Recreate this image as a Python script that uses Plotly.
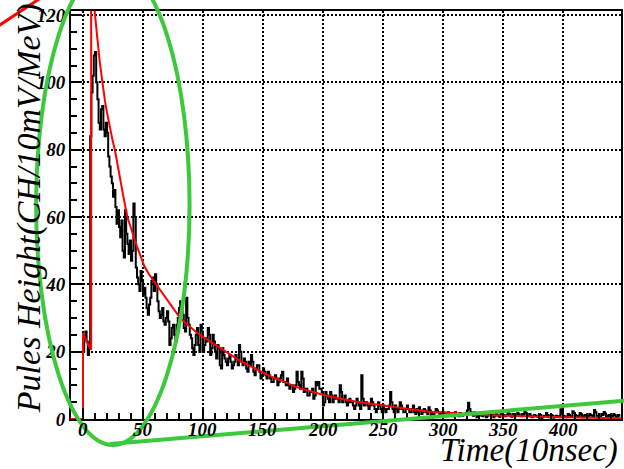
import plotly.graph_objects as go

# ---------------- data ----------------
BIN_START = 0
BIN_WIDTH = 1
counts = [
    20, 24, 26, 23, 19, 21, 84, 97, 102, 108, 109, 100, 95, 88, 86, 92, 93, 86, 84, 88,          # 0-20
    85, 78, 75, 72, 70, 66, 68, 63, 58, 62, 57, 54, 59, 50, 48, 62, 55, 52, 49, 53,              # 20-40
    47, 50, 64, 60, 45, 42, 40, 38, 44, 41, 37, 39, 36, 33, 31, 34, 36, 41, 42, 38,              # 40-60
    43, 40, 35, 32, 30, 31, 33, 29, 28, 30, 32, 29, 22, 24, 27, 28, 25, 23, 28, 30,              # 60-80
    33, 35, 34, 31, 27, 26, 36, 30, 28, 25, 24, 21, 19, 22, 25, 27, 22, 20, 28, 26,              # 80-100
    20, 22, 24, 23, 27, 25, 19, 21, 25, 23, 20, 18, 22, 21, 16, 15, 21, 19, 18, 17,              # 100-120
    16, 18, 19, 17, 15, 16, 17, 19, 18, 16, 22, 20, 17, 16, 18, 17, 15, 14, 17, 16,              # 120-140
    19, 17, 14, 13, 15, 16, 16, 14, 12, 13, 15, 14, 13, 12, 14, 13, 12, 11, 11, 12,              # 140-160
    13, 12, 10, 11, 12, 13, 14, 11, 11, 10, 12, 10, 9, 10, 10, 8, 9, 10, 14, 11,                 # 160-180
    10, 9, 14, 12, 8, 9, 9, 7, 7, 8, 8, 9, 6, 7, 11, 10, 11, 9, 9, 8,                            # 180-200
    4, 5, 8, 7, 6, 5, 8, 7, 5, 6, 7, 6, 6, 5, 10, 8, 5, 6, 7, 5,                                 # 200-220
    4, 5, 6, 5, 5, 4, 3, 4, 6, 5, 4, 3, 13, 6, 4, 5, 5, 4, 3, 4,                                 # 220-240
    6, 5, 4, 3, 2, 3, 5, 4, 3, 2, 4, 3, 2, 3, 3, 4, 8, 5, 3, 2,                                  # 240-260
    4, 3, 2, 3, 5, 4, 3, 2, 2, 3, 4, 3, 2, 2, 3, 4, 2, 1.5, 3, 2,                                # 260-280
    3.5, 2.5, 1.5, 2, 3, 2.5, 2, 1.5, 3.5, 2.5, 2, 1.5, 1.5, 2, 3, 2.5, 2, 1, 1.5, 2,            # 280-300
    2, 1.5, 1, 1.2, 2, 1.5, 1.5, 1, 0.8, 1.2, 2, 1.5, 1.2, 0.8, 1.8, 1.5, 1, 1.2, 1.5, 1.8,      # 300-320
    2.5, 4.8, 3, 2, 1.5, 1, 2, 1.5, 0.5, 1, 1.5, 1.2, 1, 0.8, 2, 1.5, 0.5, 1, 1.2, 1.5,          # 320-340
    1.8, 1.2, 0.5, 1, 1.5, 1.2, 1, 0.6, 2, 1.5, 1.2, 0.8, 0.8, 1.2, 2, 1.5, 1, 0.7, 1.5, 1.2,    # 340-360
    0.8, 1, 1.8, 1.4, 1, 0.8, 1.5, 1.2, 2.3, 1.8, 1, 0.8, 1.5, 1, 0.5, 0.8, 1.2, 1, 0.8, 0.6,    # 360-380
    1.5, 1.2, 0.3, 0.6, 1, 0.8, 1.8, 1.2, 0.5, 0.8, 1.2, 1, 0.4, 0.6, 1, 0.8, 0.8, 0.5, 2.9, 1.5,  # 380-400
    1, 0.8, 0.5, 0.7, 1.5, 1.2, 0.8, 0.6, 2.3, 1.8, 1.2, 1, 1, 0.7, 1.8, 1.4, 0.5, 0.8, 1.2, 1,  # 400-420
    0.8, 0.6, 1.5, 1.2, 1, 0.8, 2.7, 2, 1, 0.8, 0.5, 0.7, 1.5, 1.2, 2.1, 1.6, 0.8, 0.6, 1.2, 1,  # 420-440
    0.5, 0.8, 1.5, 1.2, 0.8, 0.6, 1.2, 1,                                                        # 440-448
]

fit_x = [-10, 0, 0, 2, 4, 6.8, 6.8, 7.5, 8.5, 10.5, 12, 14, 16, 18.3, 20, 22, 24.5, 26.7,
         29, 32, 34.5, 37, 39.5, 42, 45, 48, 51, 55, 59, 63, 66.5, 70, 75, 80, 85, 90, 95,
         100, 108, 115, 122, 130, 136, 143, 150, 157, 164, 170, 175, 181, 190, 200, 214,
         228, 240, 250, 264, 275, 287, 300, 320, 335, 350, 375, 400, 425, 448.5]
fit_y = [0, 0, 25.5, 23.8, 22.3, 20.6, 132, 129, 125, 118.5, 113, 106, 100, 94.5, 91, 87, 83, 79.7,
         75, 69, 64.5, 60, 57, 54.5, 51.3, 48.5, 45.5, 43, 41, 39, 37, 35.3, 32.8, 30.5, 28.7, 27, 25.6,
         24.4, 22.5, 20.8, 19.2, 17.5, 16.3, 15, 13.8, 12.6, 11.6, 10.6, 9.9, 9.1, 8.1, 7.2, 6.1,
         5.1, 4.5, 4.0, 3.2, 2.7, 2.25, 1.9, 1.4, 1.2, 1.0, 0.7, 0.5, 0.35, 0.25]

x_ticks = [0, 50, 100, 150, 200, 250, 300, 350, 400]
y_ticks = [0, 20, 40, 60, 80, 100, 120]

x_title = "Time(10nsec)"
y_title = "Pules Height(CH/10mV/MeV)"

# ---------------- build histogram outline ----------------
hx = [-10]
hy = [0]
for i, c in enumerate(counts):
    hx.append(BIN_START + i * BIN_WIDTH)
    hy.append(c)
hx.append(BIN_START + len(counts) * BIN_WIDTH)
hy.append(counts[-1])

fig = go.Figure()
fig.add_trace(go.Scatter(x=hx, y=hy, mode="lines", line_shape="hv",
                         line=dict(color="black", width=2), showlegend=False,
                         hoverinfo="skip"))
fig.add_trace(go.Scatter(x=fit_x, y=fit_y, mode="lines",
                         line=dict(color="#ff0000", width=2),
                         showlegend=False, hoverinfo="skip"))

W, H = 624, 469
ML, MR, MT, MB = 71, 1, 11, 50
PW = W - ML - MR
PH = H - MT - MB


def px(xp):
    return (xp - ML) / PW


def py(yp):
    return (H - MB - yp) / PH


tickfont = dict(family="Liberation Serif", size=19, color="black",
                weight="bold", style="italic")

common = dict(ticks="inside", ticklen=11, tickwidth=1.5, tickcolor="black",
              showline=True, linecolor="black", linewidth=2, mirror=True,
              showgrid=True, gridcolor="black", griddash="2px,2px", gridwidth=1.5,
              zeroline=False, tickfont=tickfont)

fig.update_layout(
    width=W, height=H,
    margin=dict(l=ML, r=MR, t=MT, b=MB),
    paper_bgcolor="white", plot_bgcolor="white",
    showlegend=False,
    xaxis=dict(range=[-10, 448.5], tickvals=x_ticks, showticklabels=False,
               minor=dict(dtick=10, tick0=0, ticks="inside", ticklen=6, tickwidth=1.5,
                          tickcolor="black", showgrid=False),
               **common),
    yaxis=dict(range=[0, 121.2], tickvals=y_ticks, ticktext=[str(v) for v in y_ticks],
               minor=dict(dtick=5, tick0=0, ticks="inside", ticklen=6, tickwidth=1.5,
                          tickcolor="black", showgrid=False),
               **common),
)

# x tick labels (placed a little closer to the axis, as in the original)
for v in x_ticks:
    fig.add_annotation(text=str(v), x=v, xref="x", y=py(430), yref="paper",
                       xanchor="center", yanchor="middle", showarrow=False,
                       font=tickfont)

titlefont = dict(family="Liberation Serif", size=33, color="black", style="italic")
fig.add_annotation(text=x_title, xref="paper", yref="paper", x=px(622), y=py(471),
                   xanchor="right", yanchor="bottom", showarrow=False, font=titlefont)
fig.add_annotation(text=y_title, xref="paper", yref="paper", x=px(29), y=py(208),
                   xanchor="center", yanchor="middle", textangle=-90, showarrow=False,
                   font=dict(family="Liberation Serif", size=34, color="black",
                             style="italic"))

green = "#3cc93c"
fig.add_shape(type="circle", xref="paper", yref="paper",
              x0=px(36), x1=px(190), y0=py(445), y1=py(-35),
              line=dict(color=green, width=4), layer="above")
fig.add_shape(type="line", xref="paper", yref="paper",
              x0=px(110), y0=py(444), x1=px(630), y1=py(400.5),
              line=dict(color=green, width=4), layer="above")
fig.add_shape(type="line", xref="paper", yref="paper",
              x0=px(-5), y0=py(28), x1=px(42), y1=py(-3),
              line=dict(color="#ff0000", width=3), layer="above")

fig.write_html("out.html")
